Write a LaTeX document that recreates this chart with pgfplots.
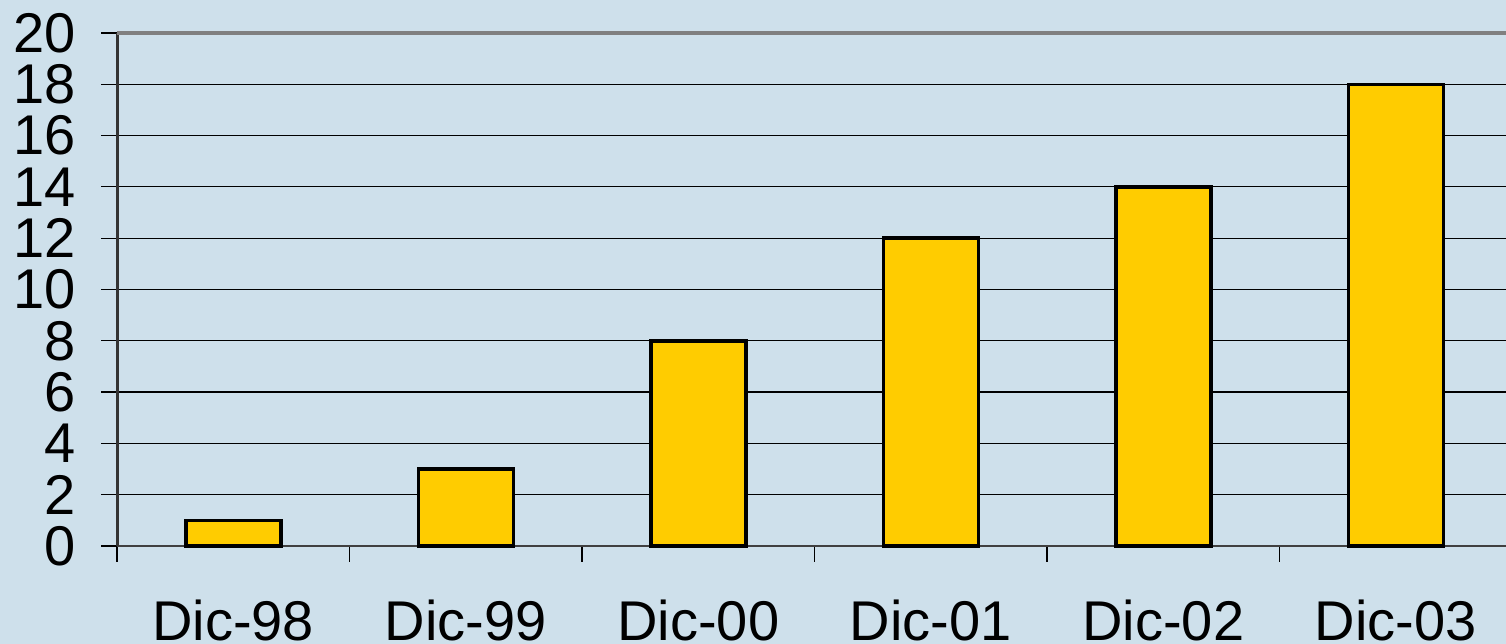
\documentclass[border=0pt]{standalone}
\usepackage{pgfplots}
\pgfplotsset{compat=1.18}
\usepackage{fontspec}
\setmainfont{Liberation Sans}
\definecolor{bg}{RGB}{206,224,235}
\definecolor{baryellow}{RGB}{255,204,0}
\begin{document}
\begin{tikzpicture}[x=1bp,y=1bp]
\path[use as bounding box, fill=bg] (0,0) rectangle (1506,644);
\begin{axis}[
  at={(117bp,98bp)}, anchor=south west,
  scale only axis, width=1389bp, height=513bp,
  xmin=-0.5, xmax=5.474, ymin=0, ymax=20,
  clip=false,
  axis line style={draw=none},
  ytick={0,2,...,20},
  xtick={-0.5,0.5,...,5.5},
  xticklabels={},
  extra x ticks={0,...,5},
  extra x tick labels={Dic-98,Dic-99,Dic-00,Dic-01,Dic-02,Dic-03},
  extra x tick style={major tick length=0pt, tick style={draw=none},
    xticklabel style={yshift=-50bp}},
  tick align=outside,
  ytick pos=left, xtick pos=bottom,
  major tick length=16bp,
  tick style={black, line width=1.2bp},
  ymajorgrids, grid style={black, line width=1.2bp},
  ticklabel style={font=\fontsize{56bp}{64bp}\selectfont},
  yticklabel style={xshift=-22bp},
  /pgf/number format/assume math mode=true,
  ybar, bar width=95bp,
]
\draw[black!75, line width=2.5bp] (rel axis cs:0,0) -- (rel axis cs:1,0);
\draw[black!80, line width=3bp] (rel axis cs:0,0) -- (rel axis cs:0,1);
\draw[black!50, line width=3.5bp] (rel axis cs:0,1) -- (rel axis cs:1,1);
\addplot[draw=black, line width=3.5bp, fill=baryellow] coordinates {(0,1) (1,3) (2,8) (3,12) (4,14) (5,18)};
\end{axis}
\end{tikzpicture}
\end{document}
